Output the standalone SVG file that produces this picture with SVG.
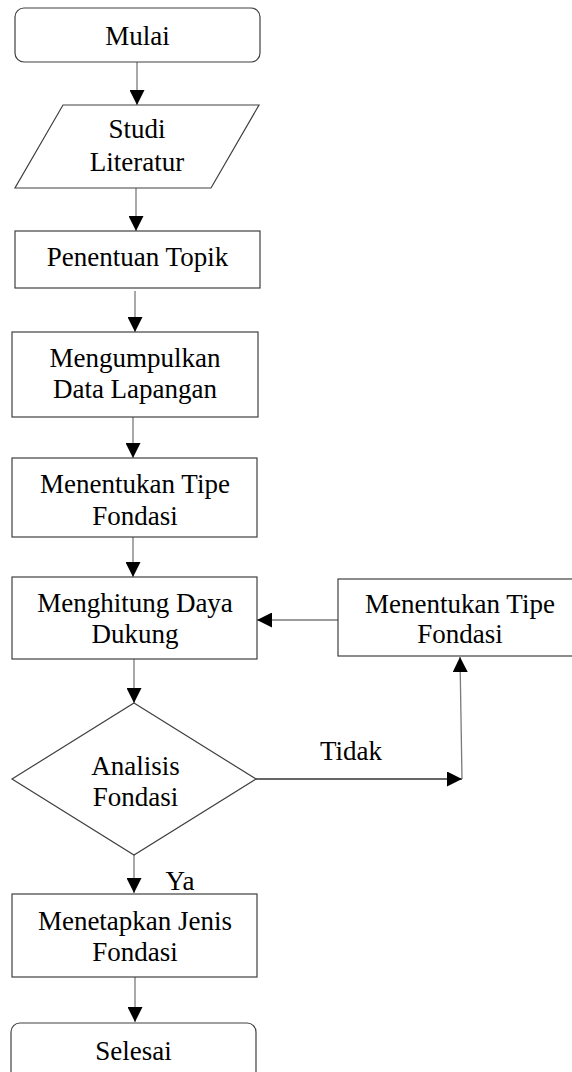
<svg xmlns="http://www.w3.org/2000/svg" width="572" height="1072" viewBox="0 0 572 1072">
<style>
.box{fill:#fff;stroke:#404040;stroke-width:1.2}
.t{font-family:"Liberation Serif","Times New Roman",serif;font-size:27px;fill:#000;text-anchor:middle}
.c{fill:none;stroke:#7a7a7a;stroke-width:1.3}
.cd{fill:none;stroke:#333;stroke-width:1.3}
</style>
<defs>
<marker id="ah" markerUnits="userSpaceOnUse" markerWidth="15" markerHeight="15" refX="15" refY="7.5" orient="auto" viewBox="0 0 15 15">
<path d="M0,0 L15,7.5 L0,15 z" fill="#000"/>
</marker>
</defs>
<rect width="572" height="1072" fill="#fff"/>
<g id="connectors">
<path class="c" d="M137,62 V105" marker-end="url(#ah)"/>
<path class="c" d="M136,188 V231" marker-end="url(#ah)"/>
<path class="c" d="M135,291 V332" marker-end="url(#ah)"/>
<path class="c" d="M133,417 V458" marker-end="url(#ah)"/>
<path class="c" d="M133,537 V577" marker-end="url(#ah)"/>
<path class="c" d="M134,659 V703" marker-end="url(#ah)"/>
<path class="c" d="M338,620 H257" marker-end="url(#ah)"/>
<path class="cd" d="M256,779 H462" marker-end="url(#ah)"/>
<path class="c" d="M462,779 L460,657" marker-end="url(#ah)"/>
<path class="c" d="M134,855 V893" marker-end="url(#ah)"/>
<path class="c" d="M135,977 V1022" marker-end="url(#ah)"/>
<text class="t" x="351" y="760">Tidak</text>
<text class="t" x="180" y="890">Ya</text>
</g>
<g id="mulai">
<rect class="box" x="15" y="8" width="245" height="54" rx="9"/>
<text class="t" x="137.5" y="45">Mulai</text>
</g>
<g id="studi-literatur">
<polygon class="box" points="63,105 259,105 211,188 15,188"/>
<text class="t" x="137" y="138">Studi</text>
<text class="t" x="137" y="171">Literatur</text>
</g>
<g id="penentuan-topik">
<rect class="box" x="15" y="231" width="245" height="57"/>
<text class="t" x="137.5" y="266">Penentuan Topik</text>
</g>
<g id="mengumpulkan-data">
<rect class="box" x="12" y="332" width="246" height="85"/>
<text class="t" x="135" y="367">Mengumpulkan</text>
<text class="t" x="135" y="398">Data Lapangan</text>
</g>
<g id="menentukan-tipe-1">
<rect class="box" x="12" y="458" width="245" height="79"/>
<text class="t" x="135" y="493">Menentukan Tipe</text>
<text class="t" x="135" y="525">Fondasi</text>
</g>
<g id="menghitung-daya-dukung">
<rect class="box" x="12" y="577" width="245" height="82"/>
<text class="t" x="135" y="612">Menghitung Daya</text>
<text class="t" x="135" y="643">Dukung</text>
</g>
<g id="menentukan-tipe-2">
<rect class="box" x="338" y="579" width="245" height="77"/>
<text class="t" x="460" y="613">Menentukan Tipe</text>
<text class="t" x="460" y="643">Fondasi</text>
</g>
<g id="analisis-fondasi">
<polygon class="box" points="134,703 256,779 134,855 12,779"/>
<text class="t" x="135.5" y="775">Analisis</text>
<text class="t" x="135.5" y="806">Fondasi</text>
</g>
<g id="menetapkan-jenis">
<rect class="box" x="12" y="894" width="245" height="83"/>
<text class="t" x="135" y="930">Menetapkan Jenis</text>
<text class="t" x="135" y="961">Fondasi</text>
</g>
<g id="selesai">
<rect class="box" x="11" y="1023" width="245" height="60" rx="9"/>
<text class="t" x="133.5" y="1060">Selesai</text>
</g>
</svg>
